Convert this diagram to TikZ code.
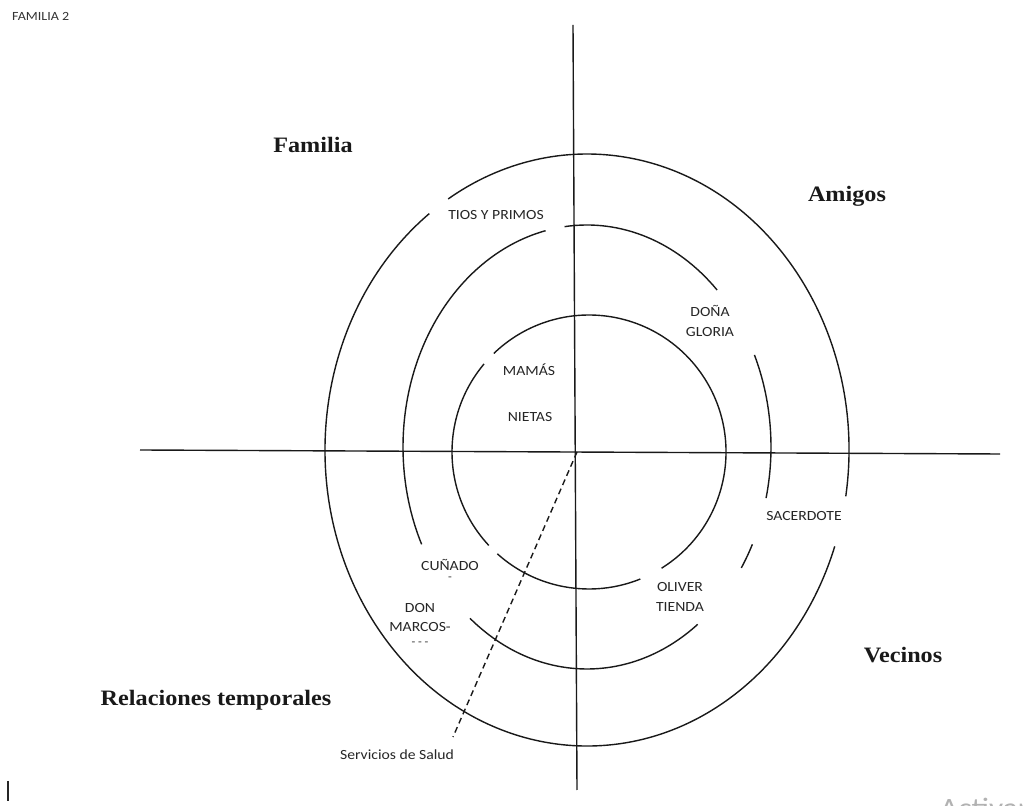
\documentclass[tikz,border=0pt]{standalone}
\usepackage{fontspec}
\setmainfont{Carlito}[FakeStretch=1.12]
\newfontfamily\headfont{Liberation Serif}[FakeStretch=1.1]
\tikzset{
  ring/.style={line width=1.4pt, black!90},
  axis/.style={line width=1.4pt, black!90},
  tag/.style={inner sep=0pt, font=\fontsize{14}{20}\selectfont, text=black!85, align=center},
  zone/.style={inner sep=0pt, font=\headfont\bfseries\fontsize{22}{26}\selectfont, text=black!90},
}
\begin{document}
\begin{tikzpicture}[x=1pt, y=1pt]
    \useasboundingbox (0,0) rectangle (1023,806);
    \fill[white] (0,0) rectangle (1023,806);

    % Draw axes
    \coordinate (vtop) at (573,781);
    \coordinate (vbot) at (577,16);
    \coordinate (hleft) at (140,356);
    \coordinate (hright) at (1000,352);
    \coordinate (ctr) at (577,354);
    \coordinate (dashend) at (453,69);
    \draw[axis] (vtop) -- (vbot);
    \draw[axis] (hleft) -- (hright);

    % Draw rings (with gaps)
    \foreach \a/\b in {127/341, 351/482}
        \draw[ring] (587,356) ++(\a:262 and 296) arc[start angle=\a, end angle=\b, x radius=262, y radius=296];
    \foreach \a/\b in {45/97, 103/206, 230.5/307, 327/334, 346.7/384.5}
        \draw[ring] (587,359) ++(\a:184 and 222) arc[start angle=\a, end angle=\b, x radius=184, y radius=222];
    \foreach \a/\b in {140/223, 228/292, 302/494}
        \draw[ring] (589,354) ++(\a:137 and 137) arc[start angle=\a, end angle=\b, radius=137];

    % Draw nodes
    \node[anchor=west, inner sep=0pt, font=\fontsize{12.5}{14}\selectfont, text=black!80] (title) at (12,790) {FAMILIA 2};
    \node[zone] (familia) at (313,661) {Familia};
    \node[zone] (amigos) at (847,610) {Amigos};
    \node[zone] (vecinos) at (903,151) {Vecinos};
    \node[zone] (temporales) at (216,106) {Relaciones temporales};

    \node[tag] (tios) at (496,591) {TIOS Y PRIMOS};
    \node[tag] (gloria) at (710,485) {DOÑA\\GLORIA};
    \node[tag] (mamas) at (529,436) {MAMÁS};
    \node[tag] (nietas) at (530,389) {NIETAS};
    \node[tag] (sacerdote) at (804,290) {SACERDOTE};
    \node[tag] (cunado) at (450,241) {CUÑADO};
    \node[tag, font=\fontsize{11}{11}\selectfont] (cunmark) at (450,227) {-};
    \node[tag, font=\fontsize{14}{19}\selectfont] (marcos) at (420,182) {DON\\MARCOS-\\[-5pt]{\fontsize{11}{11}\selectfont- - -}};
    \node[tag] (oliver) at (680,209) {OLIVER\\TIENDA};
    \node[tag] (salud) at (397,51) {Servicios de Salud};

    % Draw edges
    \draw[axis, dash pattern=on 6pt off 4pt] (ctr) -- (dashend);

    % Stray marks
    \coordinate (bartop) at (8,25);
    \coordinate (barbot) at (8,5);
    \draw[line width=1.4pt, black!85] (bartop) -- (barbot);
    \node[anchor=base west, inner sep=0pt, font=\fontsize{28}{30}\selectfont, text=black!30] (watermark) at (940,-12) {Activar Windows};
\end{tikzpicture}
\end{document}
